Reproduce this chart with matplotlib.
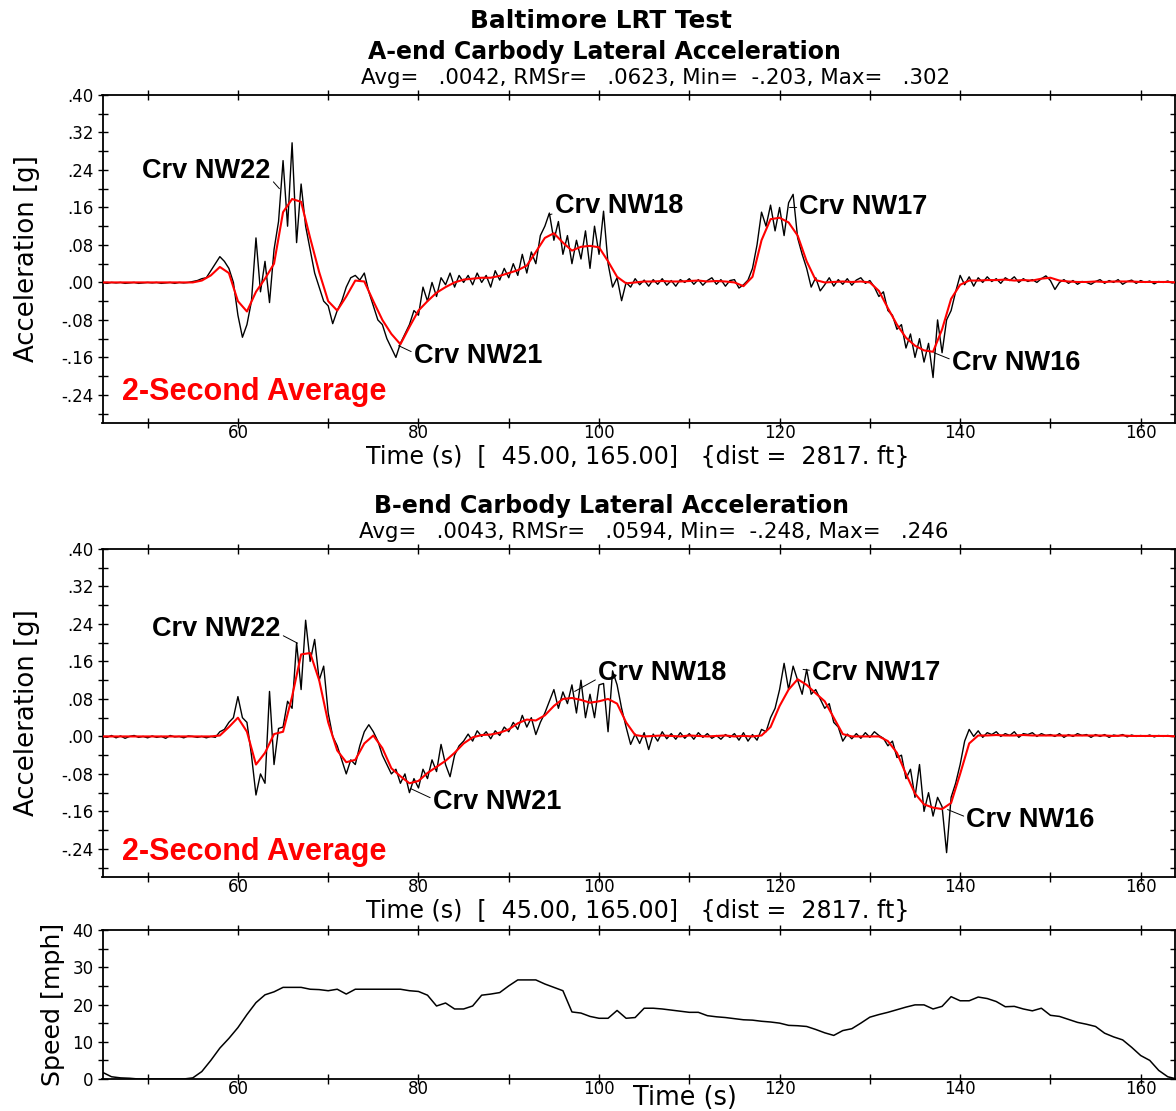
import numpy as np
import matplotlib
matplotlib.use("Agg")
import matplotlib.pyplot as plt
from matplotlib.ticker import FixedLocator, MultipleLocator

plt.rcParams['font.family'] = ['DejaVu Sans']

# ---------------- data ----------------
t_raw = np.arange(0, 241) * 0.5 + 45.0          # 0.5 s samples, 45..165 s
t_avg = np.arange(45, 166, 1.0)                  # 1 s samples of the 2-second average
t_speed = np.arange(45, 166, 1.0)

a_end_raw = [
    0.000, -0.002, 0.000, -0.001, 0.000, -0.002, -0.001, 0.000, -0.002, -0.001,
    0.000, -0.001, 0.000, -0.002, -0.001, 0.000, -0.002, 0.000, -0.001, 0.000,
    0.002, 0.004, 0.008, 0.010, 0.025, 0.040, 0.055, 0.045, 0.030, 0.000,
    -0.070, -0.117, -0.090, -0.040, 0.095, -0.020, 0.045, -0.043, 0.070, 0.130,
    0.260, 0.120, 0.298, 0.085, 0.210, 0.120, 0.070, 0.020, -0.010, -0.040,
    -0.050, -0.088, -0.060, -0.040, -0.010, 0.010, 0.015, 0.005, 0.020, -0.020,
    -0.050, -0.080, -0.090, -0.120, -0.140, -0.160, -0.130, -0.110, -0.090, -0.060,
    -0.070, -0.010, -0.040, 0.000, -0.030, 0.010, -0.005, 0.020, -0.010, 0.015,
    0.000, 0.015, -0.005, 0.020, 0.000, 0.015, -0.010, 0.025, 0.005, 0.030,
    0.010, 0.040, 0.015, 0.060, 0.020, 0.065, 0.040, 0.100, 0.120, 0.148,
    0.090, 0.130, 0.060, 0.100, 0.040, 0.090, 0.050, 0.110, 0.030, 0.120,
    0.060, 0.152, 0.040, -0.010, 0.010, -0.039, 0.000, -0.010, 0.008, -0.005,
    0.005, -0.008, 0.006, -0.004, 0.008, -0.006, 0.004, -0.008, 0.006, 0.000,
    0.008, -0.004, 0.006, -0.006, 0.004, 0.010, -0.004, 0.006, -0.008, 0.004,
    0.006, -0.012, -0.005, 0.005, 0.030, 0.080, 0.150, 0.120, 0.165, 0.110,
    0.160, 0.100, 0.170, 0.188, 0.095, 0.060, 0.030, -0.010, 0.010, -0.018,
    -0.005, 0.010, -0.008, 0.006, -0.004, 0.008, -0.006, 0.005, 0.010, -0.002,
    0.004, -0.010, -0.030, -0.020, -0.060, -0.070, -0.100, -0.090, -0.140, -0.110,
    -0.160, -0.120, -0.170, -0.130, -0.203, -0.080, -0.150, -0.080, -0.060, -0.020,
    0.015, -0.005, 0.012, -0.008, 0.010, 0.000, 0.012, 0.002, 0.008, -0.002,
    0.010, 0.004, 0.012, 0.000, 0.008, 0.002, 0.006, 0.000, 0.008, 0.014,
    0.004, -0.015, 0.000, 0.006, -0.002, 0.004, -0.004, 0.002, 0.000, -0.004,
    0.002, 0.006, -0.002, 0.004, 0.000, 0.006, -0.004, 0.002, 0.005, -0.002,
    0.004, 0.000, 0.003, -0.003, 0.002, 0.000, 0.003, -0.001, 0.002, 0.000, 0.000,
]

a_end_avg = [
    0.000, 0.000, 0.000, 0.000, 0.000, 0.000, 0.000, 0.000, 0.000, 0.000,
    0.000, 0.004, 0.015, 0.033, 0.020, -0.040, -0.062, -0.020, 0.008, 0.040,
    0.150, 0.178, 0.172, 0.095, 0.022, -0.040, -0.060, -0.030, 0.004, 0.002,
    -0.040, -0.080, -0.110, -0.132, -0.095, -0.060, -0.040, -0.022, -0.010, 0.000,
    0.006, 0.008, 0.010, 0.010, 0.014, 0.020, 0.026, 0.036, 0.065, 0.095,
    0.105, 0.085, 0.068, 0.076, 0.078, 0.075, 0.045, 0.012, -0.002, 0.000,
    0.002, 0.002, 0.003, 0.002, 0.002, 0.003, 0.004, 0.002, 0.003, 0.002,
    0.000, -0.008, 0.012, 0.090, 0.135, 0.138, 0.128, 0.100, 0.045, 0.005,
    0.000, 0.001, 0.002, 0.001, 0.002, 0.000, -0.018, -0.055, -0.090, -0.118,
    -0.135, -0.145, -0.148, -0.100, -0.035, -0.005, 0.004, 0.004, 0.005, 0.005,
    0.006, 0.004, 0.005, 0.004, 0.008, 0.010, 0.004, 0.002, 0.001, 0.001,
    0.002, 0.001, 0.002, 0.002, 0.002, 0.001, 0.001, 0.001, 0.001, 0.000, 0.000,
]

b_end_raw = [
    0.000, -0.002, 0.002, -0.003, 0.001, -0.004, 0.000, 0.002, -0.002, 0.000,
    -0.003, 0.001, -0.002, 0.000, -0.004, 0.002, -0.001, 0.000, -0.003, 0.001,
    0.000, -0.002, 0.000, -0.003, 0.000, -0.002, 0.010, 0.015, 0.030, 0.040,
    0.085, 0.040, 0.030, -0.040, -0.125, -0.080, -0.100, 0.096, -0.060, 0.017,
    0.020, 0.075, 0.060, 0.200, 0.100, 0.248, 0.160, 0.207, 0.120, 0.150,
    0.050, 0.000, -0.020, -0.050, -0.080, -0.050, -0.060, -0.020, 0.010, 0.025,
    0.010, -0.010, -0.040, -0.060, -0.080, -0.070, -0.100, -0.080, -0.120, -0.090,
    -0.110, -0.070, -0.090, -0.050, -0.075, -0.017, -0.060, -0.086, -0.040, -0.020,
    -0.010, 0.005, -0.010, 0.012, 0.000, 0.010, -0.005, 0.012, 0.002, 0.020,
    0.010, 0.030, 0.015, 0.045, 0.020, 0.040, 0.004, 0.030, 0.050, 0.075,
    0.100, 0.060, 0.095, 0.070, 0.110, 0.050, 0.120, 0.040, 0.090, 0.040,
    0.110, 0.113, 0.010, 0.140, 0.110, 0.060, 0.020, -0.017, 0.005, -0.015,
    0.008, -0.028, 0.005, -0.010, 0.010, -0.005, 0.006, -0.006, 0.008, -0.004,
    0.006, -0.006, 0.008, -0.002, 0.006, -0.004, 0.002, -0.006, 0.004, -0.002,
    0.006, -0.008, 0.008, -0.010, 0.004, -0.008, 0.015, 0.010, 0.040, 0.060,
    0.100, 0.156, 0.100, 0.150, 0.120, 0.090, 0.143, 0.090, 0.100, 0.080,
    0.060, 0.070, 0.030, 0.020, -0.010, 0.005, -0.005, 0.006, -0.004, 0.008,
    -0.002, 0.010, 0.002, -0.004, -0.020, -0.010, -0.045, -0.040, -0.090, -0.070,
    -0.130, -0.060, -0.160, -0.120, -0.170, -0.130, -0.150, -0.248, -0.130, -0.100,
    -0.060, -0.010, 0.015, 0.000, 0.012, -0.002, 0.008, 0.004, 0.010, 0.000,
    0.006, 0.002, 0.010, -0.002, 0.006, 0.004, 0.008, 0.000, 0.006, 0.002,
    0.004, 0.000, 0.006, -0.002, 0.004, 0.000, 0.006, 0.002, 0.004, -0.002,
    0.004, 0.000, 0.004, -0.002, 0.003, 0.001, 0.004, -0.001, 0.003, 0.000,
    0.002, 0.000, 0.003, -0.001, 0.002, 0.000, 0.002, 0.000, 0.001, 0.000, 0.000,
]

b_end_avg = [
    0.000, 0.000, 0.000, 0.000, 0.000, 0.000, 0.000, 0.000, 0.000, 0.000,
    0.000, 0.000, 0.000, 0.002, 0.020, 0.040, 0.010, -0.060, -0.035, 0.005,
    0.010, 0.085, 0.175, 0.178, 0.120, 0.030, -0.030, -0.055, -0.050, -0.015,
    0.002, -0.025, -0.068, -0.085, -0.100, -0.095, -0.078, -0.065, -0.052, -0.035,
    -0.015, -0.002, 0.003, 0.004, 0.008, 0.015, 0.028, 0.036, 0.034, 0.045,
    0.065, 0.080, 0.082, 0.078, 0.072, 0.075, 0.080, 0.070, 0.030, 0.003,
    0.000, 0.001, 0.002, 0.001, 0.000, 0.002, 0.001, 0.000, 0.001, 0.002,
    0.000, 0.001, 0.000, 0.002, 0.020, 0.065, 0.100, 0.122, 0.110, 0.092,
    0.075, 0.040, 0.005, 0.000, 0.000, 0.000, 0.000, -0.010, -0.035, -0.080,
    -0.122, -0.145, -0.152, -0.155, -0.142, -0.080, -0.015, 0.002, 0.002, 0.003,
    0.002, 0.002, 0.003, 0.002, 0.002, 0.002, 0.002, 0.002, 0.002, 0.002,
    0.002, 0.002, 0.001, 0.002, 0.001, 0.001, 0.001, 0.001, 0.001, 0.000, 0.000,
]

speed_mph = [
    1.8, 0.6, 0.3, 0.2, 0.0, 0.0, 0.0, 0.0, 0.0, 0.0,
    0.3, 2.0, 5.0, 8.3, 10.9, 13.8, 17.3, 20.5, 22.6, 23.4,
    24.6, 24.6, 24.6, 24.1, 24.0, 23.7, 24.1, 22.8, 24.1, 24.1,
    24.1, 24.1, 24.1, 24.1, 23.7, 23.5, 22.5, 19.6, 20.4, 18.8,
    18.8, 19.6, 22.5, 22.8, 23.2, 25.0, 26.6, 26.6, 26.6, 25.5,
    24.6, 23.7, 18.0, 17.7, 16.8, 16.3, 16.3, 18.4, 16.3, 16.5,
    19.0, 19.0, 18.8, 18.5, 18.2, 17.9, 17.9, 17.0, 16.7, 16.5,
    16.2, 15.9, 15.8, 15.5, 15.3, 15.0, 14.4, 14.3, 14.1, 13.3,
    12.4, 11.7, 13.0, 13.5, 15.0, 16.6, 17.3, 17.9, 18.6, 19.3,
    19.9, 19.9, 18.8, 19.5, 22.1, 21.0, 21.0, 22.0, 21.6, 20.8,
    19.4, 19.5, 18.8, 18.3, 19.0, 17.1, 16.8, 16.0, 15.2, 14.7,
    14.1, 12.3, 11.3, 10.5, 8.5, 6.3, 5.0, 2.3, 0.6, 0.0, 0.0,
]

acc_ticks = [-0.24, -0.16, -0.08, 0.00, 0.08, 0.16, 0.24, 0.32, 0.40]
acc_ticklabels = ['-.24', '-.16', '-.08', '.00', '.08', '.16', '.24', '.32', '.40']
time_ticks = [60, 80, 100, 120, 140, 160]
speed_ticks = [0, 10, 20, 30, 40]

main_title = 'Baltimore LRT Test'
panels = [
    dict(title='A-end Carbody Lateral Acceleration',
         stats='Avg=   .0042, RMSr=   .0623, Min=  -.203, Max=   .302',
         raw=a_end_raw, avg=a_end_avg,
         notes=[('Crv NW22', (49.4, 0.238), (64.6, 0.200), (1.0, 0.2)),
                ('Crv NW18', (95.1, 0.164), (94.4, 0.144), (0.0, 0.2)),
                ('Crv NW17', (122.2, 0.160), (121.1, 0.160), (0.0, 0.5)),
                ('Crv NW21', (79.5, -0.156), (77.8, -0.135), (0.0, 0.6)),
                ('Crv NW16', (139.1, -0.171), (137.1, -0.150), (0.0, 0.6))]),
    dict(title='B-end Carbody Lateral Acceleration',
         stats='Avg=   .0043, RMSr=   .0594, Min=  -.248, Max=   .246',
         raw=b_end_raw, avg=b_end_avg,
         notes=[('Crv NW22', (50.5, 0.229), (66.6, 0.199), (1.0, 0.3)),
                ('Crv NW18', (99.9, 0.135), (97.3, 0.096), (0.0, 0.3)),
                ('Crv NW17', (123.6, 0.135), (122.6, 0.143), (0.0, 0.6)),
                ('Crv NW21', (81.6, -0.139), (79.1, -0.111), (0.0, 0.6)),
                ('Crv NW16', (140.7, -0.178), (138.6, -0.156), (0.0, 0.6))]),
]
xlabel_txt = 'Time (s)  [  45.00, 165.00]   {dist =  2817. ft}'

# ---------------- layout ----------------
W, H = 1176, 1111
fig = plt.figure(figsize=(W / 100, H / 100), dpi=100)


def fx(px):
    return px / W


def fy(px):
    return 1 - px / H


L, R = 102.5, 1175
XMAX = 163.8
acc_boxes = [(95, 423), (549, 877)]
sp_box = (930, 1079)
BOLD = ['Liberation Sans', 'DejaVu Sans']

fit_list = []   # (text artist, target px, 'w' or 'h')


def style_axes(ax):
    for s in ax.spines.values():
        s.set_linewidth(1.3)
    ax.tick_params(which='both', direction='inout', length=7, width=1.0,
                   colors='black', labelsize=12, top=True, right=True)
    ax.tick_params(axis='y', which='major', pad=3)
    ax.tick_params(axis='x', which='major', pad=-2.5)


t = fig.text(fx(601), fy(21), main_title, ha='center', va='center',
             fontsize=17, fontweight='bold')
fit_list.append((t, 262, 'w'))

title_y = [(52, 78), (506, 532)]
title_x = [604, 611]
stats_x = [656, 654]
xlabel_y = [457, 911]

for i, p in enumerate(panels):
    top, bot = acc_boxes[i]
    ax = fig.add_axes([fx(L), fy(bot), fx(R) - fx(L), (bot - top) / H])
    ax.plot(t_raw, p['raw'], color='black', lw=1.0, zorder=2)
    ax.plot(t_avg, p['avg'], color='#ff0000', lw=1.5, zorder=3)
    ax.set_xlim(45, XMAX)
    ax.set_ylim(-0.30, 0.40)
    ax.yaxis.set_major_locator(FixedLocator(acc_ticks))
    ax.set_yticklabels(acc_ticklabels)
    ax.yaxis.set_minor_locator(MultipleLocator(0.04))
    ax.xaxis.set_major_locator(FixedLocator(time_ticks))
    ax.set_xticklabels([str(v) for v in time_ticks])
    ax.xaxis.set_minor_locator(MultipleLocator(10))
    style_axes(ax)
    yl = ax.set_ylabel('Acceleration [g]', fontsize=15)
    ax.yaxis.set_label_coords((40 - L) / (R - L), 0.5)
    fit_list.append((yl, 206, 'h'))
    for label, xyt, xy, rp in p['notes']:
        ax.annotate(label, xy=xy, xytext=xyt, textcoords='data',
                    ha='left', va='center', fontsize=19.5, fontweight='bold',
                    family=BOLD,
                    arrowprops=dict(arrowstyle='-', lw=0.7, color='black',
                                    shrinkA=0, shrinkB=0, relpos=rp),
                    zorder=5)
    ax.text(0.018, 0.093 if i == 0 else 0.077, '2-Second Average', transform=ax.transAxes,
            color='#ff0000', fontsize=22, fontweight='bold', family=BOLD,
            ha='left', va='center')
    ty = title_y[i]
    t1 = fig.text(fx(title_x[i]), fy(ty[0]), p['title'], ha='center', va='center',
                  fontsize=17, fontweight='bold')
    fit_list.append((t1, 474, 'w'))
    t2 = fig.text(fx(stats_x[i]), fy(ty[1]), p['stats'], ha='center', va='center',
                  fontsize=12.5)
    fit_list.append((t2, 587, 'w'))
    t3 = fig.text(fx(638), fy(xlabel_y[i]), xlabel_txt, ha='center', va='center',
                  fontsize=15)
    fit_list.append((t3, 545, 'w'))

# speed panel
top, bot = sp_box
axs = fig.add_axes([fx(L), fy(bot), fx(R) - fx(L), (bot - top) / H])
axs.plot(t_speed, speed_mph, color='black', lw=1.1)
axs.set_xlim(45, XMAX)
axs.set_ylim(0, 40)
axs.yaxis.set_major_locator(FixedLocator(speed_ticks))
axs.yaxis.set_minor_locator(MultipleLocator(5))
axs.xaxis.set_major_locator(FixedLocator(time_ticks))
axs.xaxis.set_minor_locator(MultipleLocator(10))
style_axes(axs)
yl = axs.set_ylabel('Speed [mph]', fontsize=15)
axs.yaxis.set_label_coords((65 - L) / (R - L), 0.5)
fit_list.append((yl, 163, 'h'))
t4 = fig.text(fx(685), fy(1098), 'Time (s)', ha='center', va='center', fontsize=15)
fit_list.append((t4, 104, 'w'))

# fit text sizes to the reference pixel extents
fig.canvas.draw()
renderer = fig.canvas.get_renderer()
for _ in range(3):
    for txt, target, dim in fit_list:
        bb = txt.get_window_extent(renderer)
        cur = bb.width if dim == 'w' else bb.height
        if cur > 0:
            txt.set_fontsize(txt.get_fontsize() * target / cur)

fig.savefig('out.png', dpi=100)
